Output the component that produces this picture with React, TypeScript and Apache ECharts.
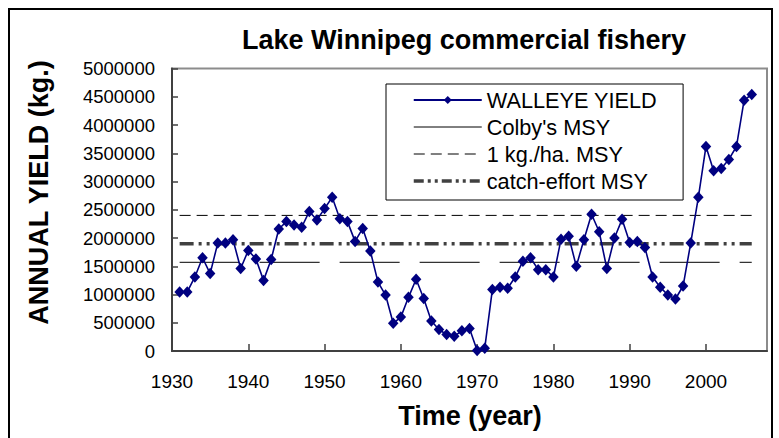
import React, { useEffect, useRef } from "react";
import * as echarts from "echarts";

const years = [
  1931, 1932, 1933, 1934, 1935, 1936, 1937, 1938, 1939, 1940,
  1941, 1942, 1943, 1944, 1945, 1946, 1947, 1948, 1949, 1950,
  1951, 1952, 1953, 1954, 1955, 1956, 1957, 1958, 1959, 1960,
  1961, 1962, 1963, 1964, 1965, 1966, 1967, 1968, 1969, 1970,
  1971, 1972, 1973, 1974, 1975, 1976, 1977, 1978, 1979, 1980,
  1981, 1982, 1983, 1984, 1985, 1986, 1987, 1988, 1989, 1990,
  1991, 1992, 1993, 1994, 1995, 1996, 1997, 1998, 1999, 2000,
  2001, 2002, 2003, 2004, 2005, 2006,
];

const walleyeYield = [
  1045000, 1045000, 1310000, 1650000, 1370000, 1910000, 1910000, 1970000, 1460000, 1780000,
  1630000, 1250000, 1620000, 2160000, 2290000, 2230000, 2190000, 2470000, 2320000, 2520000,
  2720000, 2340000, 2290000, 1940000, 2170000, 1770000, 1220000, 990000, 490000, 600000,
  950000, 1270000, 930000, 530000, 380000, 290000, 260000, 360000, 400000, 10000,
  50000, 1090000, 1130000, 1110000, 1310000, 1590000, 1650000, 1440000, 1440000, 1310000,
  1980000, 2030000, 1500000, 1970000, 2420000, 2110000, 1460000, 2000000, 2330000, 1920000,
  1940000, 1830000, 1310000, 1130000, 990000, 920000, 1150000, 1910000, 2720000, 3620000,
  3190000, 3230000, 3390000, 3620000, 4440000, 4540000,
];

const colbyMSY = 1570000;
const kgHaMSY = 2400000;
const catchEffortMSY = 1900000;

const seriesNames = ["WALLEYE YIELD", "Colby's MSY", "1 kg./ha. MSY", "catch-effort MSY"];
const xTicks = [1930, 1940, 1950, 1960, 1970, 1980, 1990, 2000];

const FONT = "'Liberation Sans', Arial, Helvetica, sans-serif";

export default function App() {
  const ref = useRef<HTMLDivElement>(null);

  useEffect(() => {
    document.body.style.margin = "0";
    document.body.style.overflow = "hidden";
    if (!ref.current) return;
    const chart = echarts.init(ref.current, undefined, { renderer: "svg" });

    const first = years[0];
    const last = years[years.length - 1];
    const refLine = (v: number) => [
      [first, v],
      [last, v],
    ];

    const walleyeLine = { color: "#000080", width: 1.6 };
    const colbyLine = { color: "#333333", width: 1.2, type: [60, 20] };
    const kgHaLine = { color: "#000000", width: 1, type: [11, 6] };
    const catchLine = { color: "#404040", width: 3.5, type: [14, 5, 3, 5, 3, 5] };

    chart.setOption({
      animation: false,
      backgroundColor: "#ffffff",
      textStyle: { fontFamily: FONT },
      grid: {
        left: 172,
        top: 68.5,
        right: 12,
        bottom: 87,
        show: true,
        borderColor: "#8c8c8c",
        borderWidth: 2,
        backgroundColor: "transparent",
      },
      legend: {
        orient: "vertical",
        left: 386,
        top: 84,
        padding: [5, 26, 8, 26],
        itemWidth: 68,
        itemHeight: 10,
        itemGap: 5,
        backgroundColor: "#ffffff",
        borderColor: "#000000",
        borderWidth: 1,
        textStyle: { fontFamily: FONT, fontSize: 21.7, color: "#000000", padding: [0, 0, 6, 0] },
        data: [
          { name: seriesNames[0], lineStyle: { color: "#000080", width: 2 } },
          { name: seriesNames[1], lineStyle: { color: "#000000", width: 1, type: "solid" } },
          { name: seriesNames[2], lineStyle: { color: "#000000", width: 1, type: [11, 6] } },
          { name: seriesNames[3], lineStyle: { color: "#404040", width: 3.5, type: [10, 4, 3, 4, 3, 4] } },
        ],
      },
      xAxis: {
        type: "value",
        min: 1930,
        max: 2008,
        interval: 10,
        splitLine: { show: false },
        axisLine: { show: true, onZero: false, lineStyle: { color: "#404040", width: 2 } },
        axisTick: { show: true, inside: true, length: 7, lineStyle: { color: "#404040", width: 1.5 } },
        axisLabel: {
          color: "#000000",
          fontSize: 19,
          fontFamily: FONT,
          margin: 21,
          showMaxLabel: false,
          formatter: (v: number) => (xTicks.indexOf(v) >= 0 ? String(v) : ""),
        },
      },
      yAxis: {
        type: "value",
        min: 0,
        max: 5000000,
        interval: 500000,
        splitLine: { show: false },
        axisLine: { show: true, lineStyle: { color: "#404040", width: 2 } },
        axisTick: { show: true, inside: true, length: 6, lineStyle: { color: "#404040", width: 1.5 } },
        axisLabel: {
          color: "#000000",
          fontSize: 18.5,
          fontFamily: FONT,
          margin: 17,
          padding: [0, 0, 8, 0],
          formatter: (v: number) => String(v),
        },
      },
      graphic: [
        {
          type: "rect",
          shape: { x: 9, y: 9, width: 763, height: 440 },
          style: { fill: "none", stroke: "#000000", lineWidth: 2 },
          silent: true,
        },
        {
          type: "text",
          x: 464,
          y: 40,
          style: {
            text: "Lake Winnipeg commercial fishery",
            font: `bold 27px ${FONT}`,
            fill: "#000000",
            textAlign: "center",
            textVerticalAlign: "middle",
          },
        },
        {
          type: "text",
          x: 39,
          y: 192.5,
          rotation: Math.PI / 2,
          style: {
            text: "ANNUAL YIELD (kg.)",
            font: `bold 27px ${FONT}`,
            fill: "#000000",
            textAlign: "center",
            textVerticalAlign: "middle",
          },
        },
        {
          type: "text",
          x: 470,
          y: 416,
          style: {
            text: "Time (year)",
            font: `bold 27px ${FONT}`,
            fill: "#000000",
            textAlign: "center",
            textVerticalAlign: "middle",
          },
        },
      ],
      series: [
        {
          name: seriesNames[1],
          type: "line",
          data: refLine(colbyMSY),
          symbol: "circle",
          showSymbol: false,
          itemStyle: { color: "rgba(0,0,0,0)" },
          lineStyle: colbyLine,
          z: 2,
          silent: true,
        },
        {
          name: seriesNames[2],
          type: "line",
          data: refLine(kgHaMSY),
          symbol: "circle",
          showSymbol: false,
          itemStyle: { color: "rgba(0,0,0,0)" },
          lineStyle: kgHaLine,
          z: 2,
          silent: true,
        },
        {
          name: seriesNames[3],
          type: "line",
          data: refLine(catchEffortMSY),
          symbol: "circle",
          showSymbol: false,
          itemStyle: { color: "rgba(0,0,0,0)" },
          lineStyle: catchLine,
          z: 2,
          silent: true,
        },
        {
          name: seriesNames[0],
          type: "line",
          data: years.map((y, i) => [y, walleyeYield[i]]),
          symbol: "diamond",
          symbolSize: [10.5, 11.5],
          itemStyle: { color: "#000080" },
          lineStyle: walleyeLine,
          z: 3,
        },
      ],
    });

    return () => {
      chart.dispose();
    };
  }, []);

  return <div ref={ref} style={{ width: 779, height: 438 }} />;
}
